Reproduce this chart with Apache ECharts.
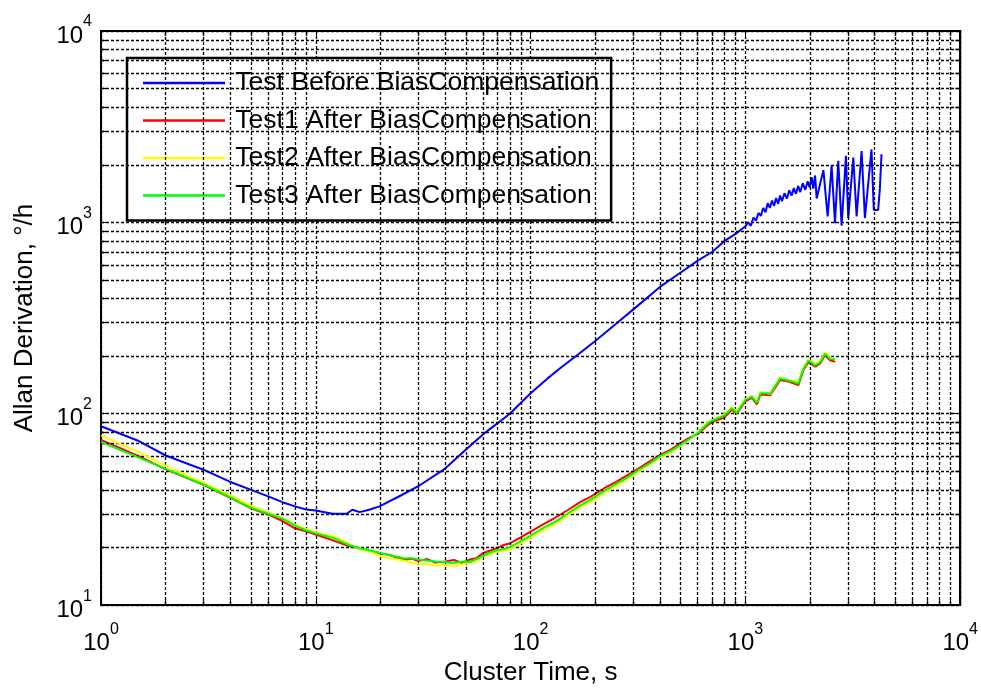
<!DOCTYPE html>
<html>
<head>
<meta charset="utf-8">
<script src="https://cdn.jsdelivr.net/npm/echarts@6/dist/echarts.min.js"></script>
<style>html,body{margin:0;padding:0;background:#fff;}#c{width:981px;height:691px;}</style>
</head>
<body>
<div id="c"></div>
<script>
// ---------------- data ----------------
const seriesNames = ['Test Before BiasCompensation', 'Test1 After BiasCompensation', 'Test2 After BiasCompensation', 'Test3 After BiasCompensation'];

const tauBlue = [1, 1.5, 2, 3, 4, 5, 6, 7, 8, 9, 10, 11, 12, 13.9, 14.8, 16, 17.7, 19.8, 25, 30, 40, 50, 60, 70, 80, 100, 120, 140, 168, 200, 250, 300, 400, 500, 600, 700, 800, 900, 1000,
  1030, 1060, 1090, 1120, 1150, 1180, 1210, 1240, 1270, 1300, 1330, 1360, 1390, 1420, 1450, 1480, 1520, 1560, 1600, 1640, 1680, 1720, 1760, 1800, 1850, 1900, 1950, 1990, 2035, 2070,
  2110, 2147, 2307, 2415, 2520, 2612, 2706, 2805, 2938, 3012, 3178, 3294, 3475, 3600, 3864, 3960, 4150, 4226, 4302];
const valBlue = [86, 72, 60.5, 51, 44, 40, 37, 34.5, 32.8, 31.6, 31.2, 30.6, 30, 30, 31.5, 30.6, 31.5, 32.8, 37.5, 41.8, 51.7, 65, 78, 89, 100, 128, 153, 176, 206, 240, 295, 350, 460, 547, 631, 700, 800, 870, 955,
  1000, 960, 1060, 1020, 1120, 1080, 1190, 1130, 1260, 1190, 1300, 1220, 1340, 1250, 1380, 1290, 1420, 1330, 1470, 1380, 1510, 1410, 1550, 1440, 1600, 1480, 1640, 1520, 1720, 1500,
  1758, 1334, 1875, 1075, 1977, 991, 2098, 961, 2225, 1053, 2179, 1075, 2360, 1053, 2405, 1162, 1162, 1500, 2270];

const tauAfter = [1, 1.5, 2, 3, 4, 5, 6, 7, 8, 9, 10, 12, 14, 16, 18, 20, 22, 24, 26, 28, 30, 33, 36, 40, 44, 48, 52, 56, 60, 65, 70, 75, 80, 90, 100, 115, 130, 150, 170, 190, 220, 250, 280, 320, 360, 400, 450, 500, 550, 606, 674, 724, 791, 865, 913, 998, 1072, 1132, 1174, 1306, 1453, 1561, 1765, 1865, 1966, 2113, 2228, 2350, 2477, 2616];
const valTest1 = [73, 60, 51.2, 42.5, 36.4, 32, 29.8, 27.5, 25.2, 24.3, 23.4, 21.8, 20.5, 19.7, 19.2, 18.6, 18.3, 17.6, 17.2, 17.5, 17.0, 17.4, 16.7, 16.9, 17.2, 16.6, 17.3, 17.6, 18.7, 19.3, 19.9, 20.6, 21, 22.6, 24.2, 26.5, 28.6, 31.5, 34.5, 36.8, 40.8, 44, 47.5, 52, 56.5, 61, 65, 70.5, 75, 79, 88, 92, 95, 105, 100, 116, 121, 112, 126, 125, 150, 148, 141, 170, 186, 176, 183, 203, 190, 187];
const valTest2 = [77, 63, 53.4, 43.5, 37.5, 33, 30.5, 28.5, 26.4, 25, 24, 23, 21.2, 19.5, 19, 18, 17.6, 17.3, 17, 16.6, 16.5, 16.4, 16.1, 16.2, 15.9, 16.3, 16.7, 16.9, 18, 18.5, 19, 19.3, 19.6, 21, 22.5, 24.8, 26.6, 29.6, 32.5, 34.5, 38.6, 42, 45.4, 50, 54.5, 59, 63, 68, 73.5, 81, 91, 94, 99, 108, 103, 119, 124, 116, 130, 127, 155, 150, 147, 175, 192, 182, 189, 209, 197, 194];
const valTest3 = [71, 59, 51.5, 42.7, 36.6, 32.2, 30, 28.3, 26, 24.6, 23.7, 22.5, 20.8, 19.8, 19.3, 18.7, 18.2, 17.9, 17.5, 17.6, 17.3, 17.1, 16.9, 16.8, 16.6, 16.9, 16.8, 17.4, 18.1, 18.8, 19.4, 19.6, 20.1, 21.6, 23.1, 25.4, 27.2, 30.3, 33.2, 35.5, 39.5, 43, 46.2, 51, 55.2, 60, 64, 69, 74, 80, 90, 93.6, 97.3, 107, 101, 118, 123, 114, 128, 128, 153, 150, 144, 172, 190, 179, 186, 206, 194, 192];

// grid / tick values
const xMinorGrid = [2,3,4,5,6,7,8,9, 20,30,40,50,60,70,80,90, 200,300,400,500,600,700,800,900, 2000,3000,4000,5000,6000,7000,8000,9000];
const yMinorGrid = [20,30,40,50,60,70,80,90, 200,300,400,500,600,700,800,900, 2000,3000,4000,5000,6000,7000,8000,9000];

// ---------------- chart ----------------
const FONT = '"Liberation Sans", Arial, sans-serif';
const colors = ['#0000ff', '#ff0000', '#ffff00', '#00ff00'];
const pair = (xs, ys) => xs.map((x, i) => [x, ys[i]]);

const dash = { color: '#000', type: [3, 2], width: 1.3 };
const labelRich = {
  b: { fontSize: 24, fontFamily: FONT, color: '#000', lineHeight: 34, verticalAlign: 'bottom' },
  s: { fontSize: 16, fontFamily: FONT, color: '#000', lineHeight: 18, verticalAlign: 'top' }
};
const fmt = v => '{b|10}{s|' + Math.round(Math.log10(v)) + '}';

// minor tick segments (short solid segments at the frame, inside)
const tdx = Math.pow(10, 5 / 215), tdy = Math.pow(10, 5 / 195);
const minorTicks = [];
xMinorGrid.forEach(v => {
  minorTicks.push([{ coord: [v, 10] }, { coord: [v, 10 * tdy] }]);
  minorTicks.push([{ coord: [v, 10000] }, { coord: [v, 10000 / tdy] }]);
});
yMinorGrid.forEach(v => {
  minorTicks.push([{ coord: [1, v] }, { coord: [tdx, v] }]);
  minorTicks.push([{ coord: [10000, v] }, { coord: [10000 / tdx, v] }]);
});

const baseX = {
  type: 'log', logBase: 10, min: 1, max: 10000,
  axisLine: { show: true, onZero: false, lineStyle: { color: '#000', width: 2 } },
  axisTick: { show: true, inside: true, length: 8, lineStyle: { color: '#000', width: 1 } },
  minorTick: { show: false }
};

const chart = echarts.init(document.getElementById('c'), null, { renderer: 'canvas' });
chart.setOption({
  animation: false,
  backgroundColor: '#fff',
  grid: { left: 101, top: 31, right: 19, bottom: 75, show: true, borderColor: '#000', borderWidth: 2, backgroundColor: '#fff' },
  legend: {
    data: seriesNames,
    orient: 'vertical',
    left: 127, top: 58,
    backgroundColor: '#fff',
    borderColor: '#000', borderWidth: 2.5,
    padding: [10, 12, 10, 16],
    itemGap: 7.5,
    itemWidth: 82, itemHeight: 2.5,
    icon: 'rect',
    formatter: name => '\u2009' + name,
    textStyle: { fontFamily: FONT, fontSize: 26.5, color: '#000', lineHeight: 30 }
  },
  xAxis: [
    Object.assign({}, baseX, {
      position: 'bottom',
      splitLine: { show: true, lineStyle: dash },
      axisLabel: { formatter: fmt, rich: labelRich, margin: 16 },
      name: 'Cluster Time, s', nameLocation: 'middle', nameGap: 46,
      nameTextStyle: { fontFamily: FONT, fontSize: 26, color: '#000' }
    }),
    Object.assign({}, baseX, { position: 'top', splitLine: { show: false }, axisLabel: { show: false } })
  ],
  yAxis: [
    Object.assign({}, baseX, {
      min: 10, max: 10000, position: 'left',
      splitLine: { show: true, lineStyle: dash },
      axisLabel: { formatter: fmt, rich: labelRich, margin: 9 },
      name: 'Allan Derivation, °/h', nameLocation: 'middle', nameGap: 63, nameRotate: 90,
      nameTextStyle: { fontFamily: FONT, fontSize: 26, color: '#000' }
    }),
    Object.assign({}, baseX, { min: 10, max: 10000, position: 'right', splitLine: { show: false }, axisLabel: { show: false } })
  ],
  series: [
    {
      name: 'grid', type: 'line', data: [], z: 1, silent: true,
      markLine: {
        silent: true, symbol: ['none', 'none'], label: { show: false }, animation: false,
        lineStyle: dash,
        data: xMinorGrid.map(v => ({ xAxis: v })).concat(yMinorGrid.map(v => ({ yAxis: v })))
      }
    },
    {
      name: 'ticks', type: 'line', data: [], z: 1, silent: true,
      markLine: {
        silent: true, symbol: ['none', 'none'], label: { show: false }, animation: false,
        lineStyle: { color: '#000', type: 'solid', width: 1.3 },
        data: minorTicks
      }
    },
    { name: seriesNames[0], type: 'line', data: pair(tauBlue, valBlue), symbol: 'none', z: 3, lineStyle: { color: colors[0], width: 2 }, itemStyle: { color: colors[0] } },
    { name: seriesNames[1], type: 'line', data: pair(tauAfter, valTest1), symbol: 'none', z: 4, lineStyle: { color: colors[1], width: 2 }, itemStyle: { color: colors[1] } },
    { name: seriesNames[2], type: 'line', data: pair(tauAfter, valTest2), symbol: 'none', z: 5, lineStyle: { color: colors[2], width: 2 }, itemStyle: { color: colors[2] } },
    { name: seriesNames[3], type: 'line', data: pair(tauAfter, valTest3), symbol: 'none', z: 6, lineStyle: { color: colors[3], width: 2 }, itemStyle: { color: colors[3] } }
  ]
});
</script>
</body>
</html>
